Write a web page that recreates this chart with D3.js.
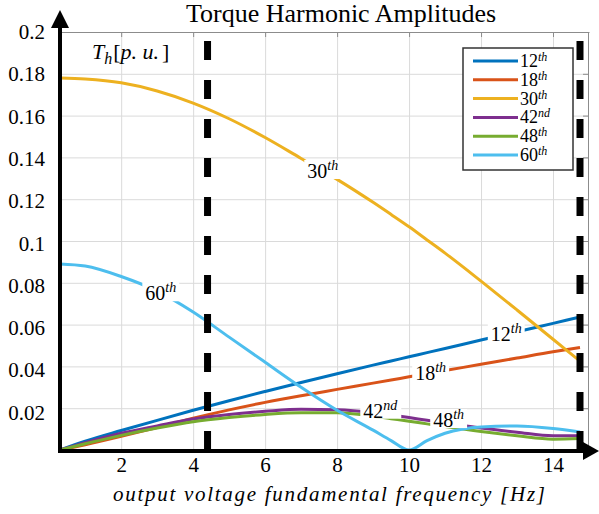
<!DOCTYPE html>
<html>
<head>
<meta charset="utf-8">
<script src="https://cdn.jsdelivr.net/npm/d3@7"></script>
<style>
  body { margin: 0; background: #fff; }
  svg { display: block; font-family: "Liberation Serif", "Times New Roman", serif; }
</style>
</head>
<body>
<div id="torqueChart"></div>
<script>
// output voltage fundamental frequency [Hz]
const freq = [0.3, 1, 2, 3, 4, 5, 6, 7, 8, 9, 9.5, 10, 10.5, 11, 12, 13, 14, 14.75];

// torque harmonic amplitudes [p.u.], one array per harmonic
const h12 = [0, 0.0042, 0.0093, 0.0142, 0.019, 0.0236, 0.028, 0.0323, 0.0365, 0.0406, 0.0426, 0.0446, 0.0466, 0.0486, 0.0526, 0.0566, 0.0606, 0.0636];
const h18 = [0, 0.0025, 0.0065, 0.0108, 0.0152, 0.0192, 0.0228, 0.026, 0.029, 0.032, 0.0335, 0.035, 0.0365, 0.038, 0.041, 0.044, 0.047, 0.049];
const h30 = [0.178, 0.1775, 0.1757, 0.1718, 0.166, 0.1585, 0.1495, 0.1395, 0.1295, 0.1185, 0.1127, 0.1068, 0.1005, 0.0942, 0.0808, 0.067, 0.053, 0.0425];
const h42 = [0, 0.0035, 0.008, 0.0115, 0.0148, 0.017, 0.0185, 0.0195, 0.0192, 0.0178, 0.0167, 0.0155, 0.0142, 0.013, 0.0105, 0.0085, 0.0068, 0.0068];
const h48 = [0, 0.003, 0.007, 0.0105, 0.0135, 0.0155, 0.017, 0.0178, 0.0178, 0.0162, 0.015, 0.0138, 0.0125, 0.0112, 0.0088, 0.0068, 0.0052, 0.0055];
const h60 = [0.089, 0.088, 0.083, 0.076, 0.066, 0.054, 0.042, 0.030, 0.019, 0.0095, 0.0045, 0, 0.0045, 0.008, 0.011, 0.0115, 0.0103, 0.0086];

const harmonicOrder = ["12", "18", "30", "42", "48", "60"];
const harmonicSuffix = ["th", "th", "th", "nd", "th", "th"];
// frequency where each inline label sits on its curve
const labelFreq = [12.7, 10.6, 7.6, 9.2, 11.1, 3.1];
// the two dashed frequency limits
const limitFreq = [4.4, 14.75];

const xTicks = [2, 4, 6, 8, 10, 12, 14];
const yTicks = [0.02, 0.04, 0.06, 0.08, 0.1, 0.12, 0.14, 0.16, 0.18, 0.2];
const yTickText = ["0.02", "0.04", "0.06", "0.08", "0.1", "0.12", "0.14", "0.16", "0.18", "0.2"];

const colors = ["#0072BD", "#D95319", "#EDB120", "#7E2F8E", "#77AC30", "#4DBEEE"];
// small vertical nudge of the inline labels (px), the 42nd/48th sit a bit above their lines
const labelNudge = [0, 0, 0, -3, -7, 0];

class HarmonicChart {

  constructor(_parent) {
    this.parent = _parent;
    this.series = [h12, h18, h30, h42, h48, h60].map((vals, i) => ({
      name: harmonicOrder[i],
      suffix: harmonicSuffix[i],
      color: colors[i],
      labelF: labelFreq[i],
      nudge: labelNudge[i],
      values: vals.map((v, j) => ({f: freq[j], v: v}))
    }));
    this.initVis();
    this.updateVis();
  }

  initVis() {
    let vis = this;
    vis.width = 599;
    vis.height = 514;

    vis.svg = d3.select(vis.parent).append("svg")
      .attr("width", vis.width)
      .attr("height", vis.height);

    vis.xScale = d3.scaleLinear().domain([0.3, 15]).range([60, 589]);
    vis.yScale = d3.scaleLinear().domain([0, 0.2]).range([450, 32]);

    // grid
    vis.svg.append("g")
      .attr("transform", "translate(0,450)")
      .call(d3.axisBottom(vis.xScale).tickValues(xTicks).tickSize(-418).tickFormat(""))
      .call(g => g.select(".domain").remove())
      .call(g => g.selectAll("line").attr("stroke", "#dadada"));

    vis.svg.append("g")
      .attr("transform", "translate(60,0)")
      .call(d3.axisLeft(vis.yScale).tickValues(yTicks.slice(0, -1)).tickSize(-528).tickFormat(""))
      .call(g => g.select(".domain").remove())
      .call(g => g.selectAll("line").attr("stroke", "#dadada"));

    // top and right box lines with small inward ticks
    vis.svg.append("g")
      .attr("transform", "translate(0,32)")
      .call(d3.axisTop(vis.xScale).tickValues(xTicks).tickSize(-5).tickSizeOuter(0).tickFormat(""))
      .call(g => g.selectAll("line, path").attr("stroke", "#8c8c8c"));

    vis.svg.append("g")
      .attr("transform", "translate(588,0)")
      .call(d3.axisRight(vis.yScale).tickValues(yTicks).tickSize(-5).tickSizeOuter(0).tickFormat(""))
      .call(g => g.selectAll("line, path").attr("stroke", "#8c8c8c"));

    // tick labels
    vis.svg.append("g")
      .attr("transform", "translate(60,0)")
      .call(d3.axisLeft(vis.yScale).tickValues(yTicks).tickSize(0).tickPadding(15)
        .tickFormat((d, i) => yTickText[i]))
      .call(g => g.select(".domain").remove())
      .call(g => g.selectAll("text")
        .attr("font-family", "Liberation Serif")
        .attr("font-size", 21)
        .attr("fill", "#000")
        .attr("dy", (d, i) => (0.32 + (9 - i) * 0.022) + "em"));

    vis.svg.append("g")
      .attr("transform", "translate(0,450)")
      .call(d3.axisBottom(vis.xScale).tickValues(xTicks).tickSize(0).tickPadding(7))
      .call(g => g.select(".domain").remove())
      .call(g => g.selectAll("text")
        .attr("font-family", "Liberation Serif")
        .attr("font-size", 21)
        .attr("fill", "#000"));

    // title
    vis.svg.append("text")
      .attr("x", 341).attr("y", 22)
      .attr("text-anchor", "middle")
      .attr("font-size", 26)
      .text("Torque Harmonic Amplitudes");

    // y label inside plot
    let yl = vis.svg.append("text").attr("x", 92).attr("y", 59).attr("font-size", 22);
    yl.append("tspan").attr("font-style", "italic").text("T");
    yl.append("tspan").attr("font-style", "italic").attr("font-size", 16).attr("dy", 5).text("h");
    yl.append("tspan").attr("dy", -5).attr("dx", 1).text("[");
    yl.append("tspan").attr("font-style", "italic").text("p. u.");
    yl.append("tspan").attr("dx", 3).text("]");

    // x label
    vis.svg.append("text")
      .attr("x", 113).attr("y", 501)
      .attr("font-size", 21)
      .attr("font-style", "italic")
      .attr("textLength", 432)
      .attr("lengthAdjust", "spacing")
      .text("output voltage fundamental frequency [Hz]");
  }

  valueAt(vals, f) {
    let i = d3.bisector(d => d.f).right(vals, f);
    i = Math.max(1, Math.min(vals.length - 1, i));
    let a = vals[i - 1], b = vals[i];
    return a.v + (b.v - a.v) * (f - a.f) / (b.f - a.f);
  }

  updateVis() {
    let vis = this;

    vis.line = d3.line()
      .x(d => vis.xScale(d.f))
      .y(d => vis.yScale(d.v))
      .curve(d3.curveMonotoneX);

    vis.svg.append("g").selectAll("path")
      .data(vis.series)
      .enter()
      .append("path")
        .attr("d", d => vis.line(d.values))
        .attr("fill", "none")
        .attr("stroke", d => d.color)
        .attr("stroke-width", 3);

    // labels on the curves, they cut the line
    let labels = vis.svg.append("g").selectAll("g")
      .data(vis.series)
      .enter()
      .append("g")
        .attr("transform", d => "translate(" + vis.xScale(d.labelF) + "," +
          (vis.yScale(vis.valueAt(d.values, d.labelF)) + d.nudge) + ")");

    labels.each(function(d) {
      let g = d3.select(this);
      let t = g.append("text")
        .attr("text-anchor", "middle")
        .attr("y", 7)
        .attr("font-size", 20);
      t.append("tspan").text(d.name);
      t.append("tspan").attr("font-style", "italic").attr("font-size", 14).attr("dy", -8).text(d.suffix);
      let bb = t.node().getBBox();
      g.insert("rect", "text")
        .attr("x", bb.x - 3).attr("y", bb.y + 2)
        .attr("width", bb.width + 6).attr("height", bb.height - 5)
        .attr("fill", "#fff");
    });

    // dashed frequency limits
    vis.svg.append("g").selectAll("line")
      .data(limitFreq)
      .enter()
      .append("line")
        .attr("x1", d => vis.xScale(d)).attr("x2", d => vis.xScale(d))
        .attr("y1", 41).attr("y2", 452)
        .attr("stroke", "#000")
        .attr("stroke-width", 7)
        .attr("stroke-dasharray", "19,20");

    // thick arrow axes
    vis.svg.append("line")
      .attr("x1", 60).attr("x2", 60).attr("y1", 26).attr("y2", 453)
      .attr("stroke", "#000").attr("stroke-width", 4);
    vis.svg.append("line")
      .attr("x1", 58).attr("x2", 586).attr("y1", 451).attr("y2", 451)
      .attr("stroke", "#000").attr("stroke-width", 4);
    vis.svg.append("path").attr("d", "M60,10 L51,28 L69,28 Z").attr("fill", "#000");
    vis.svg.append("path").attr("d", "M599,451 L583,442 L583,460 Z").attr("fill", "#000");

    // legend
    let lg = vis.svg.append("g").attr("transform", "translate(463,48)");
    lg.append("rect")
      .attr("width", 110).attr("height", 122)
      .attr("fill", "#fff")
      .attr("stroke", "#333")
      .attr("stroke-width", 1.5);
    let rows = lg.selectAll("g.row")
      .data(vis.series)
      .enter()
      .append("g")
        .attr("transform", (d, i) => "translate(0," + (13 + i * 18.8) + ")");
    rows.append("line")
      .attr("x1", 10).attr("x2", 55)
      .attr("stroke", d => d.color)
      .attr("stroke-width", 3);
    let rt = rows.append("text").attr("x", 57).attr("y", 6).attr("font-size", 18);
    rt.append("tspan").text(d => d.name);
    rt.append("tspan").attr("font-style", "italic").attr("font-size", 12).attr("dy", -6).text(d => d.suffix);
  }
}

new HarmonicChart("#torqueChart");
</script>
</body>
</html>
